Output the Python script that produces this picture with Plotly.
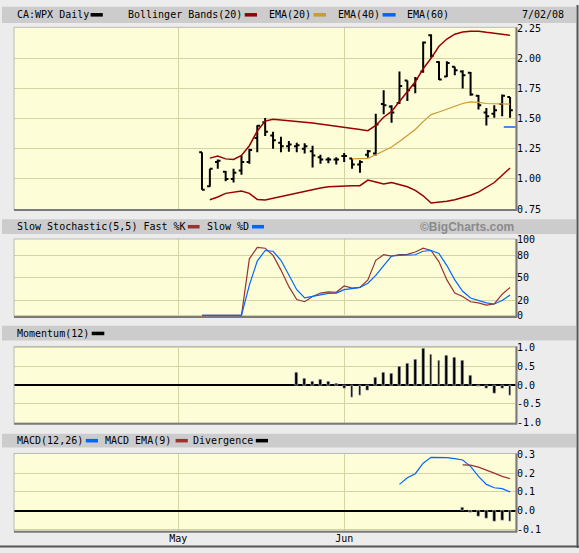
import pandas as pd
import plotly.graph_objects as go

# trading days shown (TSX, Victoria Day and Canada Day closed)
holidays = ["2008-05-19", "2008-07-01"]
dates = [d.strftime("%Y-%m-%d") for d in pd.bdate_range("2008-05-06", "2008-07-02")
         if d.strftime("%Y-%m-%d") not in holidays]

opens = [1.22, 0.94, 1.14, 1.06, 1.00, 1.07, 1.14, 1.34, 1.47, 1.36,
         1.30, 1.27, 1.27, 1.25, 1.23, 1.18, 1.16, 1.16, 1.19, 1.17,
         1.12, 1.20, 1.21, 1.62, 1.60, 1.63, 1.815, 1.775, 1.89, 2.19,
         1.97, 1.85, 1.93, 1.89, 1.88, 1.69, 1.55, 1.54, 1.62, 1.68]
highs = [1.22, 1.085, 1.16, 1.065, 1.085, 1.195, 1.25, 1.445, 1.505, 1.39,
         1.35, 1.315, 1.30, 1.295, 1.275, 1.20, 1.18, 1.18, 1.215, 1.17,
         1.155, 1.24, 1.54, 1.735, 1.61, 1.89, 1.815, 1.845, 2.14, 2.20,
         1.975, 1.975, 1.93, 1.90, 1.886, 1.695, 1.587, 1.61, 1.70, 1.68]
lows = [0.91, 0.935, 1.085, 0.98, 0.97, 1.035, 1.125, 1.22, 1.355, 1.25,
        1.22, 1.225, 1.22, 1.21, 1.095, 1.125, 1.13, 1.12, 1.14, 1.085,
        1.05, 1.175, 1.195, 1.535, 1.465, 1.62, 1.645, 1.71, 1.88, 2.005,
        1.82, 1.845, 1.86, 1.75, 1.69, 1.575, 1.443, 1.506, 1.52, 1.506]
closes = [0.91, 1.085, 1.15, 1.00, 1.05, 1.14, 1.24, 1.44, 1.39, 1.32,
          1.27, 1.285, 1.28, 1.27, 1.195, 1.16, 1.16, 1.16, 1.19, 1.12,
          1.14, 1.23, 1.45, 1.61, 1.55, 1.77, 1.735, 1.83, 2.13, 2.02,
          1.825, 1.96, 1.90, 1.86, 1.70, 1.61, 1.52, 1.57, 1.69, 1.57]

bb_upper = [None, 1.172, 1.19, 1.166, 1.161, 1.194, 1.275, 1.397, 1.479, 1.495,
            1.49, 1.485, 1.48, 1.47, 1.463, 1.455, 1.447, 1.44, 1.43, 1.42,
            1.41, 1.40, 1.443, 1.511, 1.56, 1.642, 1.723, 1.805, 1.913, 2.00,
            2.10, 2.16, 2.20, 2.217, 2.225, 2.225, 2.215, 2.205, 2.197, 2.19]
bb_lower = [None, 0.827, 0.85, 0.88, 0.89, 0.90, 0.88, 0.83, 0.825, 0.84,
            0.855, 0.87, 0.885, 0.90, 0.912, 0.925, 0.935, 0.94, 0.944, 0.944,
            0.944, 0.99, 0.975, 0.957, 0.97, 0.952, 0.935, 0.905, 0.86, 0.80,
            0.805, 0.815, 0.827, 0.845, 0.865, 0.89, 0.93, 0.97, 1.03, 1.09]
ema20 = [None] * 19 + [1.166, 1.166, 1.17, 1.20, 1.235, 1.265, 1.31, 1.357, 1.41, 1.475,
                       1.533, 1.555, 1.58, 1.60, 1.625, 1.638, 1.635, 1.625, 1.622, 1.625,
                       1.62]
ema40 = [None] * 39 + [1.43]

stoch_k = [0, 0, 0, 0, 0, 0, 75, 90, 89, 79.5,
           60, 38, 21, 18, 25, 29.5, 31, 30.5, 39, 36,
           37, 47, 73, 80.5, 78.5, 80.5, 81, 84, 89, 86,
           71, 47, 29.5, 25, 18, 16.5, 13.5, 15, 28, 37]
stoch_d = [0, 0, 0, 0, 0, 0, 40, 72, 86, 85,
           73, 53, 34, 23, 25, 27.5, 29, 29.5, 34, 35.5,
           37, 42.5, 53, 66, 78.7, 79.5, 80.4, 80.4, 85, 86,
           82, 66, 47, 31.8, 23, 19.6, 16.5, 15, 19.6, 27]

momentum = [None] * 12 + [0.34, 0.18, 0.11, 0.16, 0.10, 0.05, -0.10, -0.32,
                          -0.28, -0.15, 0.20, 0.34, 0.31, 0.51, 0.57, 0.68,
                          0.98, 0.83, 0.65, 0.80, 0.75, 0.65, 0.25, -0.03,
                          -0.08, -0.22, -0.10, -0.28]

macd = [None] * 25 + [0.14, 0.175, 0.197, 0.253, 0.284, 0.283, 0.283, 0.277,
                      0.27, 0.236, 0.183, 0.14, 0.122, 0.117, 0.10]
macd_signal = [None] * 33 + [0.244, 0.243, 0.232, 0.218, 0.20, 0.183, 0.17]
divergence = [None] * 33 + [0.017, -0.012, -0.03, -0.044, -0.056, -0.052, -0.058]

month_ticks = ["2008-05-01", "2008-06-02"]
month_labels = ["May", "Jun"]
price_ticks = [0.75, 1.00, 1.25, 1.50, 1.75, 2.00, 2.25]
stoch_ticks = [0, 20, 50, 80, 100]
mom_ticks = [-1.0, -0.5, 0.0, 0.5, 1.0]
mom_labels = ["-1.0", "-0.5", "0.0", "0.5", "1.0"]
macd_ticks = [-0.1, 0.0, 0.1, 0.2, 0.3]
macd_labels = ["-0.1", "0.0", "0.1", "0.2", "0.3"]

W, H = 579, 553
BG = "#ececec"
BAND = "#cccccc"
PLOT_BG = "#fdfdd8"
GRID = "#d3d3a3"
RED = "#990000"
BROWN = "#993333"
GOLD = "#cc9933"
BLUE = "#0066ff"
MONO = "DejaVu Sans Mono"


def px(x):
    return x / W


def py(y):
    return 1 - y / H


# panel pixel boxes: (top, bottom)
panels = [(22.7, 208.3), (238.3, 317.3), (347.7, 426.0), (456.7, 536.0)]
x_left, x_right = 14, 516
bar_w = 0.35 * 86400000

fig = go.Figure()

fig.add_trace(go.Ohlc(x=dates, open=opens, high=highs, low=lows, close=closes,
                      increasing_line_color="black", decreasing_line_color="black",
                      line_width=2, tickwidth=0.35, xaxis="x", yaxis="y"))
fig.add_trace(go.Scatter(x=dates, y=bb_upper, mode="lines", line=dict(color=RED, width=1.5),
                         xaxis="x", yaxis="y"))
fig.add_trace(go.Scatter(x=dates, y=bb_lower, mode="lines", line=dict(color=RED, width=1.5),
                         xaxis="x", yaxis="y"))
fig.add_trace(go.Scatter(x=dates, y=ema20, mode="lines", line=dict(color=GOLD, width=1.2),
                         xaxis="x", yaxis="y"))
fig.add_trace(go.Scatter(x=dates, y=ema40, mode="markers",
                         marker=dict(symbol="line-ew", size=9, line=dict(color=BLUE, width=1.5)),
                         xaxis="x", yaxis="y"))

fig.add_trace(go.Scatter(x=dates, y=stoch_k, mode="lines", line=dict(color=BROWN, width=1.2),
                         xaxis="x2", yaxis="y2"))
fig.add_trace(go.Scatter(x=dates, y=stoch_d, mode="lines", line=dict(color=BLUE, width=1.2),
                         xaxis="x2", yaxis="y2"))

fig.add_trace(go.Bar(x=dates, y=momentum, marker_color="black", width=bar_w,
                     xaxis="x3", yaxis="y3"))

fig.add_trace(go.Bar(x=dates, y=divergence, marker_color="black", width=bar_w,
                     xaxis="x4", yaxis="y4"))
fig.add_trace(go.Scatter(x=dates, y=macd, mode="lines", line=dict(color=BLUE, width=1.2),
                         xaxis="x4", yaxis="y4"))
fig.add_trace(go.Scatter(x=dates, y=macd_signal, mode="lines", line=dict(color=BROWN, width=1.2),
                         xaxis="x4", yaxis="y4"))

xcommon = dict(type="date", range=["2008-04-02 05:00", "2008-07-02 18:00"],
               rangebreaks=[dict(bounds=["sat", "mon"]), dict(values=holidays)],
               tickmode="array", tickvals=month_ticks, ticktext=month_labels,
               showgrid=True, gridcolor=GRID, gridwidth=1, ticks="", zeroline=False,
               domain=[px(x_left), px(x_right)], rangeslider=dict(visible=False),
               tickfont=dict(family=MONO, size=10, color="black"), fixedrange=True)
ycommon = dict(side="right", showgrid=True, gridcolor=GRID, gridwidth=1, ticks="",
               tickfont=dict(family=MONO, size=10, color="black"), tickmode="array",
               fixedrange=True)

layout = dict(
    width=W, height=H, margin=dict(l=0, r=0, t=0, b=0), autosize=False,
    paper_bgcolor=BG, plot_bgcolor=PLOT_BG, showlegend=False, bargap=0,
    xaxis=dict(xcommon, anchor="y", showticklabels=False),
    xaxis2=dict(xcommon, anchor="y2", showticklabels=False),
    xaxis3=dict(xcommon, anchor="y3", showticklabels=False),
    xaxis4=dict(xcommon, anchor="y4", showticklabels=True),
    yaxis=dict(ycommon, anchor="x", domain=[py(panels[0][1]), py(panels[0][0])],
               range=[0.746, 2.257], tickvals=price_ticks, tickformat=".2f", zeroline=False),
    yaxis2=dict(ycommon, anchor="x2", domain=[py(panels[1][1]), py(panels[1][0])],
                range=[-1.7, 101.3], tickvals=stoch_ticks, zeroline=False),
    yaxis3=dict(ycommon, anchor="x3", domain=[py(panels[2][1]), py(panels[2][0])],
                range=[-1.02, 1.034], tickvals=mom_ticks, ticktext=mom_labels,
                zeroline=True, zerolinecolor="black", zerolinewidth=2),
    yaxis4=dict(ycommon, anchor="x4", domain=[py(panels[3][1]), py(panels[3][0])],
                range=[-0.11, 0.305], tickvals=macd_ticks, ticktext=macd_labels,
                zeroline=True, zerolinecolor="black", zerolinewidth=2),
)
fig.update_layout(**layout)

shapes = []
# grey title bands above each panel
for top, bottom in [(1.7, 18.3), (218.3, 233.3), (326.7, 341.7), (436.7, 450.7)]:
    shapes.append(dict(type="rect", xref="paper", yref="paper", layer="below",
                       x0=px(2), x1=px(576), y0=py(bottom), y1=py(top),
                       fillcolor=BAND, line=dict(width=0)))
# panel frames
for top, bottom in panels:
    shapes.append(dict(type="rect", xref="paper", yref="paper",
                       x0=px(x_left), x1=px(x_right), y0=py(bottom), y1=py(top),
                       line=dict(color="#b8b8b8", width=1)))
    shapes.append(dict(type="line", xref="paper", yref="paper",
                       x0=px(x_left), x1=px(x_right + 1), y0=py(bottom + 0.5), y1=py(bottom + 0.5),
                       line=dict(color="#7a7a7a", width=2)))
    shapes.append(dict(type="line", xref="paper", yref="paper",
                       x0=px(x_right + 0.5), x1=px(x_right + 0.5), y0=py(bottom + 1), y1=py(top),
                       line=dict(color="#7a7a7a", width=2)))
# outer border right / bottom
shapes.append(dict(type="line", xref="paper", yref="paper", x0=px(577.5), x1=px(577.5),
                   y0=0, y1=1, line=dict(color="#555555", width=2)))
shapes.append(dict(type="line", xref="paper", yref="paper", x0=0, x1=1,
                   y0=py(551.5), y1=py(551.5), line=dict(color="#555555", width=2)))


def swatch(x0, x1, yc, color):
    shapes.append(dict(type="rect", xref="paper", yref="paper",
                       x0=px(x0), x1=px(x1), y0=py(yc + 1.8), y1=py(yc - 1.8),
                       fillcolor=color, line=dict(width=0)))


annotations = []


def label(x, yc, text, anchor="left", font=None):
    annotations.append(dict(xref="paper", yref="paper", x=px(x), y=py(yc), text=text,
                            xanchor=anchor, yanchor="middle", showarrow=False,
                            font=font or dict(family=MONO, size=10, color="black")))


# main header
label(14.8, 10, "CA:WPX Daily")
swatch(90.6, 102.8, 10, "black")
label(125.7, 10, "Bollinger Bands(20)")
swatch(244.7, 257, 10, RED)
label(267, 10, "EMA(20)")
swatch(313.5, 326, 10, GOLD)
label(335.7, 10, "EMA(40)")
swatch(382.6, 395.6, 10, BLUE)
label(404.8, 10, "EMA(60)")
label(566, 10, "7/02/08", anchor="right")

# stochastic header
label(14.8, 225.8, "Slow Stochastic(5,5) Fast %K")
swatch(187.8, 199.6, 225.8, BROWN)
label(205, 225.8, "Slow %D")
swatch(252, 264, 225.8, BLUE)
label(516, 225.8, "©BigCharts.com", anchor="right",
      font=dict(family="Liberation Sans", size=12, color="#8a8a8a", weight="bold"))

# momentum header
label(14.8, 334.5, "Momentum(12)")
swatch(91.7, 104.3, 334.5, "black")

# MACD header
label(14.8, 443.7, "MACD(12,26)")
swatch(85.8, 98, 443.7, BLUE)
label(102.8, 443.7, "MACD EMA(9)")
swatch(175.6, 187.8, 443.7, BROWN)
label(190.8, 443.7, "Divergence")
swatch(255.8, 268, 443.7, "black")

fig.update_layout(shapes=shapes, annotations=annotations)

# drop the default 8px page margin so the chart sits at the window corner
fig.write_html("out.html", config={"displayModeBar": False},
               post_script="document.body.style.margin='0';")
